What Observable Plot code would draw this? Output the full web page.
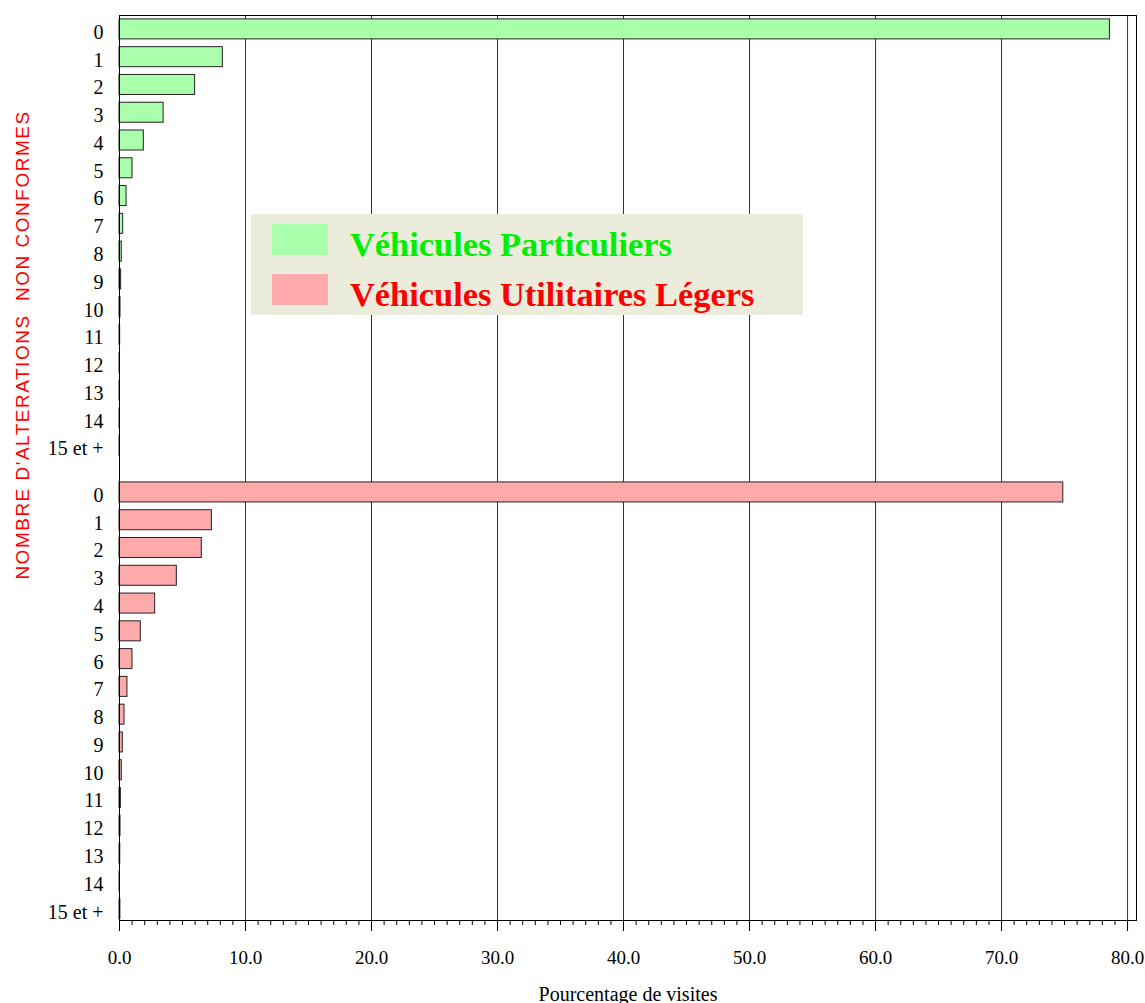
<!DOCTYPE html>
<html><head><meta charset="utf-8">
<script src="https://cdn.jsdelivr.net/npm/d3@7"></script>
<script src="https://cdn.jsdelivr.net/npm/@observablehq/plot@0.6"></script>
<style>
body{margin:0;background:#fff}
#wrap{position:relative;width:1145px;height:1003px}
#ytitle{position:absolute;left:23px;top:345px;transform:translate(-50%,-50%) rotate(-90deg);font:19px "Liberation Sans",Arial,sans-serif;letter-spacing:1.5px;color:#ff0000;white-space:pre}
#legend{position:absolute;left:251px;top:214px;width:552px;height:101px;background:#ececdc}
.sw{position:absolute;left:21px;width:56px;height:31px}
.lt{position:absolute;left:99px;font:bold 34.4px "Liberation Serif","Times New Roman",serif;line-height:34px;white-space:pre}
</style>
</head><body><div id="wrap"></div>
<script>
const categories = ["0","1","2","3","4","5","6","7","8","9","10","11","12","13","14","15 et +"];
const vpValues  = [78.6, 8.2, 6.0, 3.5, 1.93, 1.03, 0.56, 0.29, 0.18, 0.13, 0.08, 0.05, 0.03, 0.02, 0.01, 0.02];
const vulValues = [74.9, 7.33, 6.53, 4.55, 2.83, 1.69, 1.03, 0.63, 0.40, 0.26, 0.18, 0.11, 0.08, 0.06, 0.03, 0.07];
const groups = ["Véhicules Particuliers", "Véhicules Utilitaires Légers"];
const groupColors = ["#aaffaa", "#ffaaaa"];
const textColors = ["#00ee00", "#ff0000"];
const xTicks = [0, 10, 20, 30, 40, 50, 60, 70, 80];
const xTitle = "Pourcentage de visites";
const yTitle = "NOMBRE D'ALTERATIONS  NON CONFORMES";

// layout: second group starts after a gap
const groupOffset = [0, 16.67];
const rows = [];
[vpValues, vulValues].forEach((vals, g) => vals.forEach((v, i) =>
  rows.push({group: groups[g], cat: categories[i], value: v, pos: groupOffset[g] + i})));
const labelOf = new Map(rows.map(d => [d.pos, d.cat]));
const half = 0.36;

const chart = Plot.plot({
  width: 1145, height: 1003,
  marginLeft: 119, marginRight: 9, marginTop: 15, marginBottom: 83,
  style: {fontFamily: '"Liberation Serif","Times New Roman",serif', fontSize: "19px", color: "#000", background: "#fff"},
  x: {domain: [0, 80.71]},
  y: {domain: [-0.5, 32.08], reverse: true},
  color: {domain: groups, range: groupColors},
  marks: [
    Plot.gridX(xTicks.filter(d => d > 0), {stroke: "#333", strokeOpacity: 1}),
    Plot.rect(rows, {x1: 0, x2: "value", y1: d => d.pos - half, y2: d => d.pos + half, fill: "group", stroke: "#222", strokeWidth: 1}),
    Plot.axisY({ticks: rows.map(d => d.pos), tickFormat: d => labelOf.get(d), tickSize: 0, tickPadding: 16, dy: 3, fontSize: 20, label: null}),
    Plot.axisX({ticks: d3.range(0, 81), tickSize: 5, tickFormat: () => "", label: null}),
    Plot.axisX({ticks: xTicks, tickSize: 11, tickPadding: 19, tickFormat: d3.format(".1f"), label: null}),
    Plot.axisX({ticks: [], tickSize: 0, label: xTitle, labelAnchor: "center", labelOffset: 80, labelArrow: "none", fontSize: 20}),
    Plot.frame({stroke: "#000"})
  ]
});
const wrap = document.getElementById("wrap");
wrap.appendChild(chart);

const yt = document.createElement("div");
yt.id = "ytitle"; yt.textContent = yTitle;
wrap.appendChild(yt);

const lg = document.createElement("div");
lg.id = "legend";
groups.forEach((g, i) => {
  const sw = document.createElement("div");
  sw.className = "sw"; sw.style.top = (10 + 50 * i) + "px"; sw.style.background = groupColors[i];
  const t = document.createElement("div");
  t.className = "lt"; t.style.top = (13 + 50 * i) + "px"; t.style.color = textColors[i]; t.textContent = g;
  lg.appendChild(sw); lg.appendChild(t);
});
wrap.appendChild(lg);
</script>
</body></html>
